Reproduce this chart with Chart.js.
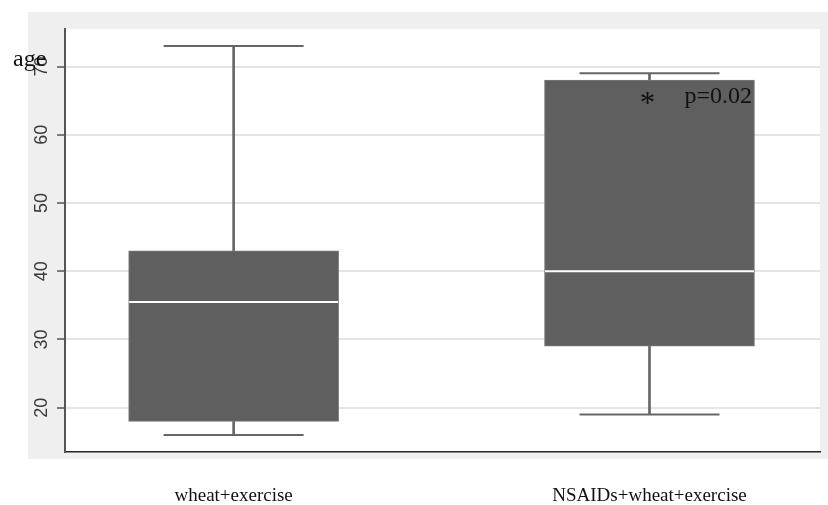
<!DOCTYPE html>
<html>
<head>
<meta charset="utf-8">
<script src="https://cdn.jsdelivr.net/npm/chart.js@4/dist/chart.umd.min.js"></script>
<style>
  html, body { margin: 0; padding: 0; background: #ffffff; }
  #wrap { width: 828px; height: 505px; }
</style>
</head>
<body>
<div id="wrap"><canvas id="c" width="828" height="505"></canvas></div>
<script>
// ---- data ----
const categories = ['wheat+exercise', 'NSAIDs+wheat+exercise'];
const groupPos   = [1, 2];
const minVals    = [16, 19];
const q1Vals     = [18, 29];
const medianVals = [35.5, 40];
const q3Vals     = [43, 68];
const maxVals    = [73, 69];
const yTickVals  = [20, 30, 40, 50, 60, 70];
const yAxisTitle = 'age';
const annotStar  = '*';
const annotText  = 'p=0.02';

const boxData      = groupPos.map((x, i) => ({ x, y: [q1Vals[i], q3Vals[i]] }));
const upperWhisker = groupPos.map((x, i) => ({ x, y: [q3Vals[i], maxVals[i]] }));
const lowerWhisker = groupPos.map((x, i) => ({ x, y: [minVals[i], q1Vals[i]] }));
const medianPts    = groupPos.map((x, i) => ({ x, y: medianVals[i] }));
const capPts       = groupPos.flatMap((x, i) => [{ x, y: maxVals[i] }, { x, y: minVals[i] }]);

const bgPlugin = {
  id: 'bg',
  beforeDraw(chart) {
    const { ctx, chartArea: ca, width } = chart;
    ctx.save();
    ctx.fillStyle = '#ffffff';
    ctx.fillRect(0, 0, width, chart.height);
    ctx.fillStyle = '#efefef';
    ctx.fillRect(ca.left - 37, ca.top - 17, width - (ca.left - 37), ca.bottom + 7 - (ca.top - 17));
    ctx.fillStyle = '#ffffff';
    ctx.fillRect(ca.left, ca.top, ca.right - ca.left, ca.bottom - ca.top);
    ctx.restore();
  },
  afterDraw(chart) {
    const { ctx, chartArea: ca, scales } = chart;
    ctx.save();
    // y axis title "age"
    ctx.fillStyle = '#111';
    ctx.font = '24px "Liberation Serif", "Times New Roman", serif';
    ctx.textAlign = 'left';
    ctx.textBaseline = 'alphabetic';
    ctx.fillText(yAxisTitle, ca.left - 52, scales.y.getPixelForValue(70) - 1);
    // annotation
    const xc = scales.x.getPixelForValue(groupPos[1]);
    const yc = scales.y.getPixelForValue(65.45);
    ctx.font = '31px "Liberation Serif", "Times New Roman", serif';
    ctx.textAlign = 'center';
    const m = ctx.measureText(annotStar);
    ctx.fillText(annotStar, xc - 2, yc + (m.actualBoundingBoxAscent - m.actualBoundingBoxDescent) / 2);
    ctx.font = '24px "Liberation Serif", "Times New Roman", serif';
    ctx.textAlign = 'left';
    ctx.fillText(annotText, xc + 35, scales.y.getPixelForValue(64.65));
    ctx.restore();
  }
};

new Chart(document.getElementById('c'), {
  data: {
    datasets: [
      {
        type: 'line', label: 'median', data: medianPts, showLine: false,
        pointStyle: 'line', pointRadius: 104.5, pointHoverRadius: 104.5,
        borderColor: '#ffffff', pointBorderColor: '#ffffff', pointBorderWidth: 2
      },
      {
        type: 'line', label: 'caps', data: capPts, showLine: false,
        pointStyle: 'line', pointRadius: 70, pointHoverRadius: 70,
        borderColor: '#666666', pointBorderColor: '#666666', pointBorderWidth: 2
      },
      {
        type: 'bar', label: 'box', data: boxData, grouped: false,
        barThickness: 210, backgroundColor: '#5f5f5f',
        borderColor: '#7a7a7a', borderWidth: 1, borderSkipped: false
      },
      {
        type: 'bar', label: 'upper', data: upperWhisker, grouped: false,
        barThickness: 2, backgroundColor: '#666666', borderWidth: 0
      },
      {
        type: 'bar', label: 'lower', data: lowerWhisker, grouped: false,
        barThickness: 2, backgroundColor: '#666666', borderWidth: 0
      }
    ]
  },
  options: {
    responsive: false,
    animation: false,
    events: [],
    layout: { autoPadding: false, padding: { left: 0, right: 8, top: 29, bottom: 0 } },
    plugins: { legend: { display: false }, tooltip: { enabled: false } },
    scales: {
      x: {
        type: 'linear',
        offset: false,
        min: 0.5945, max: 2.41,
        afterBuildTicks(scale) { scale.ticks = groupPos.map(v => ({ value: v })); },
        afterFit(scale) { scale.height = 53; },
        grid: { display: false, drawTicks: false },
        border: { display: true, color: '#222222', width: 1.5 },
        ticks: {
          padding: 33,
          color: '#111111',
          font: { family: '"Liberation Serif", "Times New Roman", serif', size: 19 },
          maxRotation: 0, minRotation: 0,
          callback(v) { const i = groupPos.indexOf(v); return i >= 0 ? categories[i] : ''; }
        }
      },
      y: {
        type: 'linear',
        min: 13.5, max: 75.5,
        afterBuildTicks(scale) { scale.ticks = yTickVals.map(v => ({ value: v })); },
        afterFit(scale) { scale.width = 65; },
        grid: { color: '#e4e4e4', lineWidth: 2, tickLength: 8, tickColor: '#555555', tickWidth: 1.5 },
        border: { display: true, color: '#555555', width: 2 },
        ticks: {
          minRotation: 90, maxRotation: 90,
          crossAlign: 'center',
          padding: 5,
          color: '#3a3a3a',
          font: { family: '"Liberation Sans", Arial, sans-serif', size: 18 }
        }
      }
    }
  },
  plugins: [bgPlugin]
});
</script>
</body>
</html>
